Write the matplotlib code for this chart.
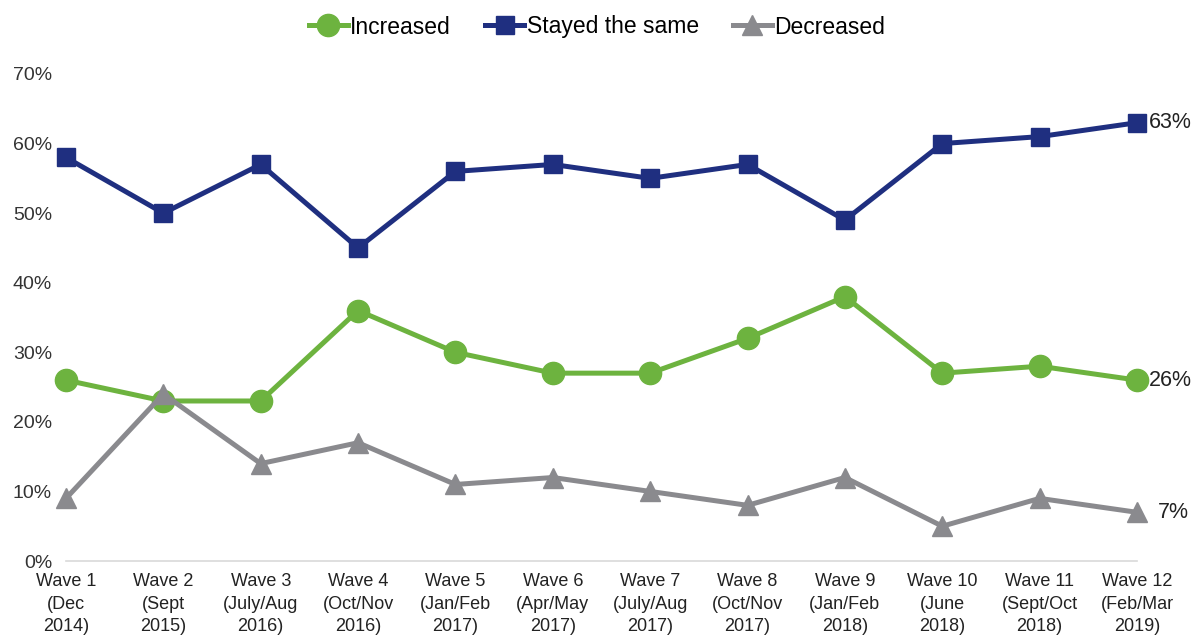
import matplotlib.pyplot as plt

waves = ["Wave 1\n(Dec\n2014)", "Wave 2\n(Sept\n2015)", "Wave 3\n(July/Aug\n2016)",
         "Wave 4\n(Oct/Nov\n2016)", "Wave 5\n(Jan/Feb\n2017)", "Wave 6\n(Apr/May\n2017)",
         "Wave 7\n(July/Aug\n2017)", "Wave 8\n(Oct/Nov\n2017)", "Wave 9\n(Jan/Feb\n2018)",
         "Wave 10\n(June\n2018)", "Wave 11\n(Sept/Oct\n2018)", "Wave 12\n(Feb/Mar\n2019)"]
increased = [26, 23, 23, 36, 30, 27, 27, 32, 38, 27, 28, 26]
stayed = [58, 50, 57, 45, 56, 57, 55, 57, 49, 60, 61, 63]
decreased = [9, 24, 14, 17, 11, 12, 10, 8, 12, 5, 9, 7]
yticks = [0, 10, 20, 30, 40, 50, 60, 70]

green = "#6DB33F"
navy = "#1F2F80"
grey = "#8A8A8E"

plt.rcParams['font.family'] = ['Liberation Sans', 'DejaVu Sans']

fig = plt.figure(figsize=(11.94, 6.36), dpi=100)
ax = fig.add_axes([66 / 1194, 1 - 561 / 636, (1137 - 66) / 1194, (561 - 74) / 636])

x = list(range(len(waves)))
ax.plot(x, increased, color=green, lw=3.6, marker='o', ms=16, clip_on=False,
        label="Increased", zorder=3)
ax.plot(x, stayed, color=navy, lw=3.6, marker='s', ms=13.5, clip_on=False,
        label="Stayed the same", zorder=3)
ax.plot(x, decreased, color=grey, lw=3.6, marker='^', ms=15, clip_on=False,
        label="Decreased", zorder=3)

# end-of-series labels
for series, dx in ((stayed, 0.12), (increased, 0.12), (decreased, 0.21)):
    ax.annotate(f"{series[-1]}%", (x[-1], series[-1]), xytext=(x[-1] + dx, series[-1]),
                va='center', ha='left', fontsize=15.5, color='#222222')

ax.set_xlim(0, len(waves) - 1)
ax.set_ylim(0, 70)
ax.set_yticks(yticks)
ax.set_yticklabels([f"{v}%" for v in yticks], fontsize=14, color='#333333')
ax.set_xticks(x)
ax.set_xticklabels(waves, fontsize=13, color='#222222', linespacing=1.4)
ax.tick_params(length=0)
ax.tick_params(axis='y', pad=10)
ax.tick_params(axis='x', pad=9)

for side in ('top', 'right', 'left'):
    ax.spines[side].set_visible(False)
ax.spines['bottom'].set_color('#D9D9D9')
ax.spines['bottom'].set_linewidth(1.2)

fig.legend(loc='center', bbox_to_anchor=(597 / 1194, 1 - 27 / 636), ncol=3, frameon=False,
           fontsize=16.5, handlelength=1.7, handletextpad=0.1, columnspacing=1.5)

fig.savefig("out.png", dpi=100)
